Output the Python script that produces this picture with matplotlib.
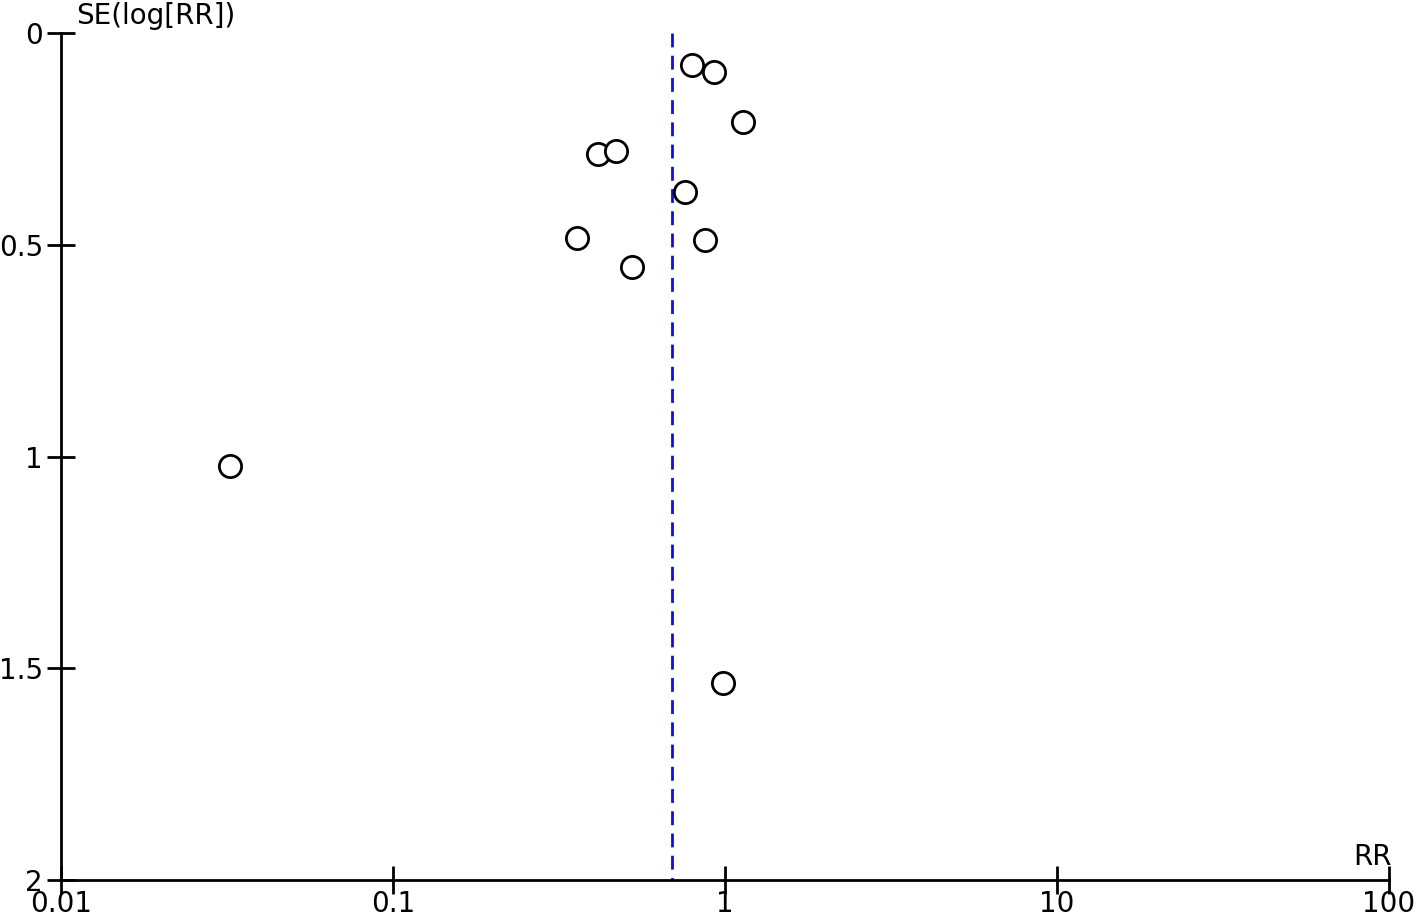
import numpy as np
import matplotlib
matplotlib.use("Agg")
from matplotlib import pyplot as plt

# funnel plot data: risk ratio vs standard error of log RR
rr = [0.796, 0.927, 1.133, 0.414, 0.470, 0.758, 0.358, 0.871, 0.525, 0.0323, 0.986]
se = [0.075, 0.093, 0.211, 0.285, 0.279, 0.376, 0.484, 0.489, 0.552, 1.023, 1.534]
pooled_rr = 0.692

x_ticks = [0.01, 0.1, 1, 10, 100]
x_tick_labels = ['0.01', '0.1', '1', '10', '100']
y_ticks = [0, 0.5, 1, 1.5, 2]
y_tick_labels = ['0', '0.5', '1', '1.5', '2']

fig = plt.figure(figsize=(14.18, 9.18), dpi=100)
ax = fig.add_axes([61 / 1418, 1 - 880 / 918, (1389 - 61) / 1418, (880 - 33) / 918])

ax.plot(rr, se, 'o', markersize=16, markerfacecolor='white', markeredgecolor='black',
        markeredgewidth=2, linestyle='none', zorder=3)
ax.plot([pooled_rr, pooled_rr], [0, 2], color='#1010d0', linestyle=(0, (5, 3)), linewidth=2, zorder=2)

ax.set_xscale('log')
ax.set_xlim(0.01, 100)
ax.set_ylim(2, 0)
ax.set_xticks(x_ticks)
ax.set_xticklabels(x_tick_labels)
ax.set_yticks(y_ticks)
ax.set_yticklabels(y_tick_labels)
ax.minorticks_off()

for side in ['top', 'right']:
    ax.spines[side].set_visible(False)
for side in ['left', 'bottom']:
    ax.spines[side].set_linewidth(2)

ax.tick_params(axis='both', direction='inout', length=20, width=2, labelsize=20, color='black')
ax.tick_params(axis='x', pad=-3)
ax.tick_params(axis='y', pad=3)

ax.text(76 / 1418, 1 - 16 / 918, 'SE(log[RR])', transform=fig.transFigure, fontsize=20,
        ha='left', va='center')
ax.text(1372 / 1418, 1 - 857 / 918, 'RR', transform=fig.transFigure, fontsize=20,
        ha='center', va='center')

plt.savefig('out.png', dpi=100)
